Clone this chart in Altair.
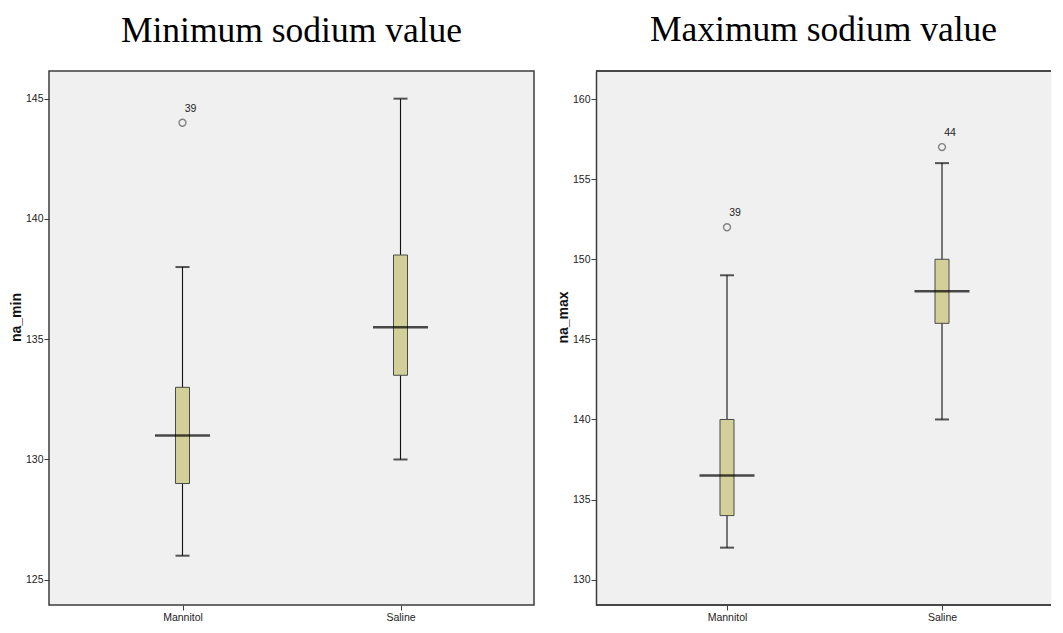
import altair as alt
import pandas as pd

groups = ["Mannitol", "Saline"]

# Panel 1: minimum sodium value (na_min)
min_lo = [126, 130]
min_q1 = [129, 133.5]
min_med = [131, 135.5]
min_q3 = [133, 138.5]
min_hi = [138, 145]
min_out_group = ["Mannitol"]
min_out_value = [144]
min_out_label = ["39"]
min_ticks = [125, 130, 135, 140, 145]

# Panel 2: maximum sodium value (na_max)
max_lo = [132, 140]
max_q1 = [134, 146]
max_med = [136.5, 148]
max_q3 = [140, 150]
max_hi = [149, 156]
max_out_group = ["Mannitol", "Saline"]
max_out_value = [152, 157]
max_out_label = ["39", "44"]
max_ticks = [130, 135, 140, 145, 150, 155, 160]

FRAME = "#3c3c3c"
BG = "#F0F0F0"
BOX = "#D3CF98"
LABEL_FONT = "Liberation Sans Narrow, Liberation Sans, Arial"
HEIGHT = 534


def panel(lo, q1, med, q3, hi, og, ov, ol, ticks, title, ytitle, ydomain,
          width, xrange, framed):
    df = pd.DataFrame({"group": groups, "lo": lo, "q1": q1, "med": med,
                       "q3": q3, "hi": hi})
    odf = pd.DataFrame({"group": og, "value": ov, "label": ol})

    xscale = alt.Scale(type="point", domain=groups, range=xrange, padding=0)
    xaxis = alt.Axis(title=None, labelAngle=0, tickSize=5, tickColor=FRAME,
                     tickWidth=1, labelFont=LABEL_FONT, labelFontSize=10.5,
                     labelColor="#222", labelPadding=2, grid=False,
                     domain=False)
    yscale = alt.Scale(domain=ydomain, nice=False, zero=False)
    yaxis = alt.Axis(title=ytitle, values=ticks, grid=False, tickSize=5,
                     tickColor=FRAME, tickWidth=1, labelFont=LABEL_FONT,
                     labelFontSize=10.5, labelColor="#222", labelPadding=1,
                     titleFont="Liberation Sans", titleFontSize=14,
                     titleFontWeight="bold", titleColor="#111",
                     titlePadding=2, titleY=246, domain=not framed,
                     domainColor=FRAME, domainWidth=1.5)

    def X():
        return alt.X("group:N", scale=xscale, axis=xaxis)

    def Y(field):
        return alt.Y(field, type="quantitative", scale=yscale, axis=yaxis)

    base = alt.Chart(df)
    whisker = base.mark_rule(color="#111", strokeWidth=1.1).encode(
        x=X(), y=Y("lo"), y2="hi")
    box = base.mark_bar(size=14, fill=BOX, stroke="#4a4a4a",
                        strokeWidth=1).encode(x=X(), y=Y("q1"), y2="q3")
    cap_lo = base.mark_tick(size=14, thickness=2, color="#111").encode(
        x=X(), y=Y("lo"))
    cap_hi = base.mark_tick(size=14, thickness=2, color="#111").encode(
        x=X(), y=Y("hi"))
    median = base.mark_tick(size=55, thickness=2.5, color="#000").encode(
        x=X(), y=Y("med"))
    outl = alt.Chart(odf).mark_point(shape="circle", filled=False, size=48,
                                     stroke="#555", strokeWidth=1.4).encode(
        x=X(), y=Y("value"))
    olab = alt.Chart(odf).mark_text(dx=8, dy=-14, font=LABEL_FONT,
                                    fontSize=10.5, color="#222").encode(
        x=X(), y=Y("value"), text="label:N")

    layers = [whisker, box, cap_lo, cap_hi, median, outl, olab]
    if framed:
        view = alt.ViewBackground(fill=BG, stroke=FRAME, strokeWidth=1.5)
    else:
        view = alt.ViewBackground(fill=BG, stroke="transparent")
        top = alt.Chart(df).mark_rule(color=FRAME, strokeWidth=1.5).encode(
            x=alt.value(0), x2=alt.value(width), y=alt.value(0))
        bottom = alt.Chart(df).mark_rule(color=FRAME, strokeWidth=1.5).encode(
            x=alt.value(0), x2=alt.value(width), y=alt.value(HEIGHT))
        layers += [top, bottom]

    return alt.layer(*layers).properties(
        width=width, height=HEIGHT, view=view,
        title=alt.TitleParams(title, font="Liberation Serif", fontSize=35.5,
                              fontWeight="normal", color="#000",
                              anchor="middle", offset=22))


left = panel(min_lo, min_q1, min_med, min_q3, min_hi, min_out_group,
             min_out_value, min_out_label, min_ticks, "Minimum sodium value",
             "na_min", [123.95, 146.15], 485, [133.5, 351.5], True)
right = panel(max_lo, max_q1, max_med, max_q3, max_hi, max_out_group,
              max_out_value, max_out_label, max_ticks, "Maximum sodium value",
              "na_max", [128.42, 161.75], 455, [131, 346], False)

chart = alt.hconcat(left, right, spacing=20).properties(
    padding={"top": 4, "bottom": 0, "left": 0, "right": 0})

chart.save("out.html", embed_options={"renderer": "svg", "actions": False})
